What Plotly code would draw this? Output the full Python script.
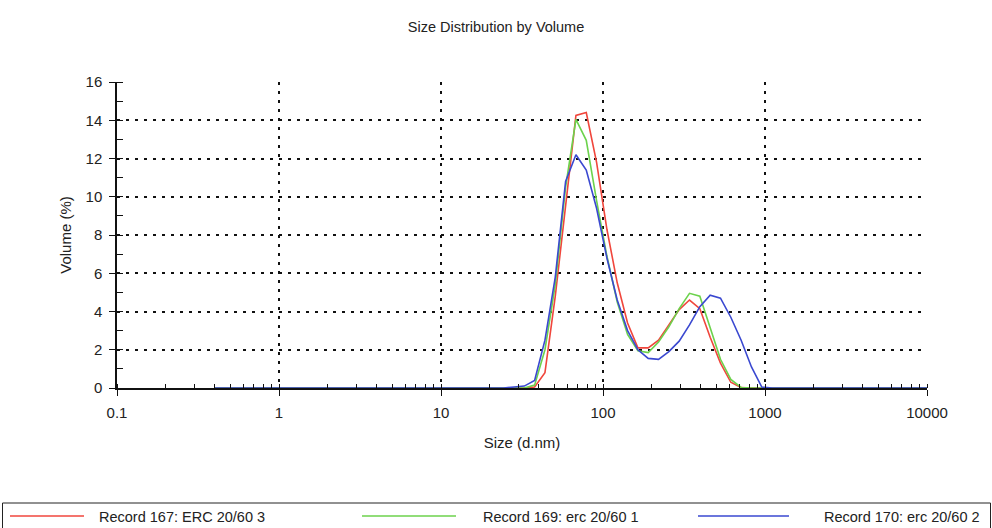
import plotly.graph_objects as go

sizes = [0.4, 0.4632, 0.5365, 0.6213, 0.7195, 0.8332, 0.9649, 1.117, 1.294, 1.499,
         1.736, 2.01, 2.328, 2.696, 3.122, 3.615, 4.187, 4.849, 5.615, 6.503,
         7.531, 8.721, 10.1, 11.7, 13.54, 15.69, 18.17, 21.04, 24.36, 28.21,
         32.67, 37.84, 43.82, 50.75, 58.77, 68.06, 78.82, 91.28, 105.7, 122.4,
         141.8, 164.2, 190.1, 220.2, 255.0, 295.3, 342.0, 396.1, 458.7, 531.2,
         615.1, 712.4, 825.0, 955.4, 1106, 1281, 1484, 1718, 1990, 2305,
         2669, 3091, 3580, 4145, 4801, 5560, 6439, 7456, 8635, 10000]

zeros30 = [0.0] * 30
zeros15 = [0.0] * 15

rec167 = zeros30 + [0, 0.05, 0.8, 4.8, 9.6, 14.25, 14.4, 11.8, 8.3, 5.5,
                    3.4, 2.1, 2.1, 2.5, 3.3, 4.1, 4.6, 4.15, 2.65, 1.3,
                    0.3, 0.02, 0, 0, 0] + zeros15
rec169 = zeros30 + [0, 0.15, 2.0, 5.4, 10.5, 14.05, 12.95, 9.8, 6.9, 4.5,
                    2.8, 1.95, 1.85, 2.4, 3.2, 4.15, 4.95, 4.8, 3.1, 1.5,
                    0.45, 0.03, 0, 0, 0] + zeros15
rec170 = zeros30[:-1] + [0.05] + [0.1, 0.4, 2.5, 5.8, 10.8, 12.2, 11.4, 9.4, 6.8, 4.6,
                    3.0, 2.0, 1.55, 1.5, 1.9, 2.45, 3.3, 4.25, 4.85, 4.7,
                    3.7, 2.5, 1.1, 0.05, 0] + zeros15

names = ["Record 167: ERC 20/60 3", "Record 169: erc 20/60 1", "Record 170: erc 20/60 2"]
colors = ["#f0463c", "#6cd24c", "#3a48d0"]
series = [rec167, rec169, rec170]

xtickvals = [0.1, 1, 10, 100, 1000, 10000]
xticktext = ["0.1", "1", "10", "100", "1000", "10000"]
ytickvals = [0, 2, 4, 6, 8, 10, 12, 14, 16]

FONT = "Liberation Sans, Arial, sans-serif"

# plot-area geometry (pixels)
W, H = 992, 528
ML, MR, MT, MB = 117, 65, 82, 140
PW, PH = W - ML - MR, H - MT - MB


def px_x(p):
    return (p - ML) / PW


def px_y(p):
    return (H - MB - p) / PH


fig = go.Figure()
for name, col, ys in zip(names, colors, series):
    fig.add_trace(go.Scatter(x=sizes, y=ys, mode="lines", name=name,
                             line=dict(color=col, width=1.6)))

# legend drawn as box + sample lines + text (the reference legend is clipped at the bottom)
shapes = [dict(type="rect", xref="paper", yref="paper",
               x0=px_x(2.5), x1=px_x(990.5), y0=px_y(503), y1=px_y(545),
               line=dict(color="#222", width=1), fillcolor="rgba(0,0,0,0)")]
annotations = []
leg_lines = [(10, 84, 97), (362, 456, 481), (698, 789, 822)]
for (l0, l1, tx), name, col in zip(leg_lines, names, colors):
    shapes.append(dict(type="line", xref="paper", yref="paper",
                       x0=px_x(l0), x1=px_x(l1), y0=px_y(516), y1=px_y(516),
                       line=dict(color=col, width=1.5)))
    annotations.append(dict(xref="paper", yref="paper", x=px_x(tx), y=px_y(516.5),
                            xanchor="left", yanchor="middle", showarrow=False,
                            text=name, font=dict(size=14.5, color="#222", family=FONT)))

fig.update_layout(
    width=W, height=H,
    margin=dict(l=ML, r=MR, t=MT, b=MB),
    paper_bgcolor="white", plot_bgcolor="white",
    font=dict(family=FONT, size=15, color="#222"),
    title=dict(text="Size Distribution by Volume", x=0.5, xanchor="center",
               y=1 - 27 / H, yanchor="middle", font=dict(size=14.5, color="#222")),
    showlegend=False,
    shapes=shapes,
    annotations=annotations,
)

fig.update_xaxes(
    type="log", range=[-1, 4],
    tickmode="array", tickvals=xtickvals, ticktext=xticktext,
    ticks="outside", ticklen=6, tickcolor="#111", tickwidth=1,
    ticklabelstandoff=4,
    showline=True, linecolor="#111", linewidth=1.5,
    showgrid=True, gridcolor="#111", gridwidth=1.5, griddash="3px,6px",
    zeroline=False,
    minor=dict(ticks="inside", ticklen=4, tickcolor="#111", dtick="D1", showgrid=False),
    title=dict(text="Size (d.nm)", font=dict(size=15), standoff=18),
)
fig.update_yaxes(
    range=[0, 16],
    tickmode="array", tickvals=ytickvals,
    ticks="outside", ticklen=6, tickcolor="#111", tickwidth=1,
    ticklabelstandoff=4,
    showline=True, linecolor="#111", linewidth=1.5,
    showgrid=True, gridcolor="#111", gridwidth=1.5, griddash="3px,6px",
    zeroline=False,
    minor=dict(ticks="inside", ticklen=6, tickcolor="#111", dtick=1, showgrid=False),
    title=dict(text="Volume (%)", font=dict(size=15), standoff=10),
)

fig.write_html("out.html")
